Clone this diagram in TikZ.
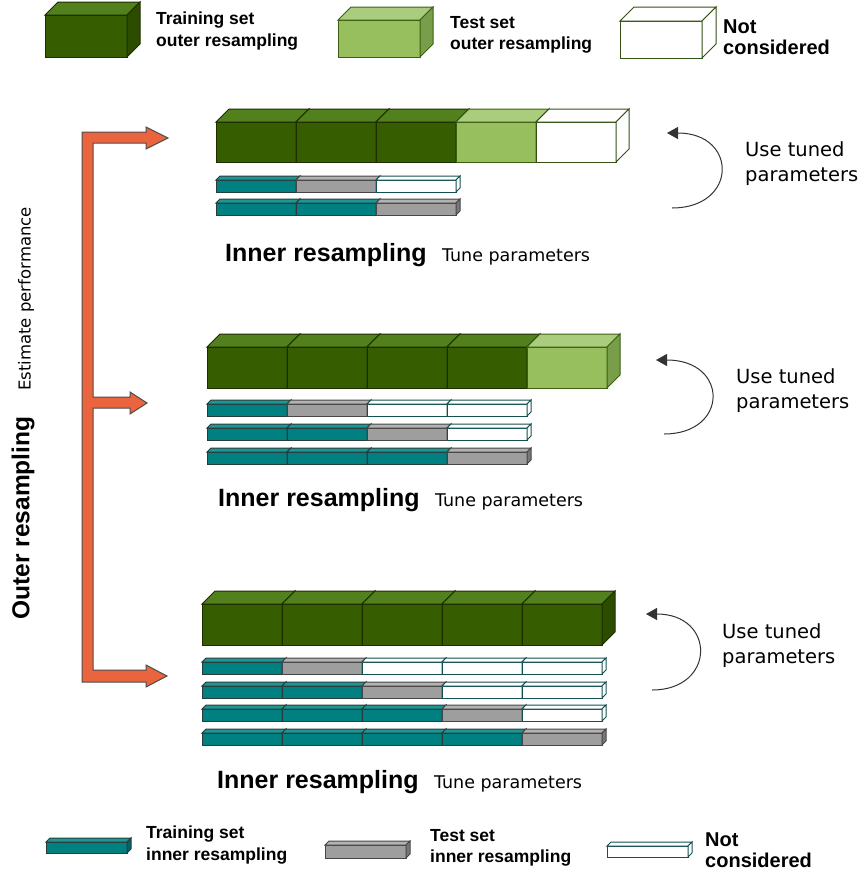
\documentclass[tikz,border=0pt]{standalone}
\usepackage{fontspec}
\setmainfont{Liberation Sans}
\newfontfamily\dejavu{DejaVu Sans}
\usetikzlibrary{arrows.meta, positioning}
% outer folds
\definecolor{otrfront}{RGB}{54, 94, 0}
\definecolor{otrtop}{RGB}{82, 128, 28}
\definecolor{otrside}{RGB}{44, 76, 0}
\definecolor{otrline}{RGB}{28, 45, 0}
\definecolor{otsfront}{RGB}{151, 191, 94}
\definecolor{otstop}{RGB}{170, 205, 125}
\definecolor{otsside}{RGB}{120, 158, 74}
\definecolor{otsline}{RGB}{60, 95, 20}
\definecolor{oncfront}{RGB}{255, 255, 255}
\definecolor{onctop}{RGB}{255, 255, 255}
\definecolor{oncside}{RGB}{255, 255, 255}
\definecolor{oncline}{RGB}{50, 80, 20}
% inner folds
\definecolor{itrfront}{RGB}{0, 128, 128}
\definecolor{itrtop}{RGB}{30, 150, 150}
\definecolor{itrside}{RGB}{0, 100, 100}
\definecolor{itrline}{RGB}{40, 60, 60}
\definecolor{itsfront}{RGB}{158, 158, 158}
\definecolor{itstop}{RGB}{178, 178, 178}
\definecolor{itsside}{RGB}{120, 120, 120}
\definecolor{itsline}{RGB}{70, 70, 70}
\definecolor{incfront}{RGB}{255, 255, 255}
\definecolor{inctop}{RGB}{255, 255, 255}
\definecolor{incside}{RGB}{255, 255, 255}
\definecolor{incline}{RGB}{20, 80, 80}
\definecolor{arroworange}{RGB}{234, 100, 62}
\tikzset{
    innerlbl/.style={anchor=west, inner sep=0pt, font=\fontsize{25}{30}\selectfont\bfseries},
    tunelbl/.style={anchor=base west, inner sep=0pt, font=\dejavu\fontsize{17.5}{21}\selectfont},
    uselbl/.style={anchor=west, inner sep=0pt, align=left, font=\dejavu\fontsize{19.5}{25}\selectfont},
    legendlbl/.style={anchor=west, inner sep=0pt, align=left, font=\fontsize{17.5}{21.5}\selectfont\bfseries},
    notlbl/.style={anchor=west, inner sep=0pt, align=left, font=\fontsize{20}{21.5}\selectfont\bfseries},
    looparrow/.style={-{Triangle[length=11pt, width=12pt]}, line width=1pt, black!80},
    outerarrow/.style={fill=arroworange, draw=black!70, line width=1pt, line join=miter},
}
% box: x1, y1, x2, y2, depth, kind
\newcommand{\cuboid}[6]{%
  \filldraw[fill=#6front, draw=#6line, line width=1pt] (#1,#2) rectangle (#3,#4);
  \filldraw[fill=#6top, draw=#6line, line width=1pt] (#1,#2) -- ++(#5,-#5) -- ({#3+#5},{#2-#5}) -- (#3,#2) -- cycle;
  \filldraw[fill=#6side, draw=#6line, line width=1pt] (#3,#2) -- ++(#5,-#5) -- ({#3+#5},{#4-#5}) -- (#3,#4) -- cycle;
}
% row of folds: x0, top, height, depth, kinds
\newcommand{\foldrow}[5]{%
  \foreach \k [count=\i from 0] in {#5} {
    \cuboid{#1+\i*80}{#2}{#1+\i*80+80}{#2+#3}{#4}{\k}
  }
}

\begin{document}
\begin{tikzpicture}[x=1pt, y=-1pt]
\useasboundingbox (0,0) rectangle (859,873);

% Legend outer resampling
\cuboid{45}{15}{127}{57}{13}{otr}
\node[legendlbl] (lgotr) at (156,31) {Training set\\outer resampling};
\cuboid{338}{20}{420}{57}{13}{ots}
\node[legendlbl] (lgots) at (450,35) {Test set\\outer resampling};
\cuboid{620}{21}{702}{58}{14}{onc}
\node[notlbl] (lgonc) at (723,37) {Not\\considered};

% Outer resampling arrow
\filldraw[outerarrow] (82,132) -- (146,132) -- (146,127) -- (168,138) -- (146,149) -- (146,143)
  -- (93,143) -- (93,397) -- (130,397) -- (130,392) -- (147,403) -- (130,414) -- (130,408)
  -- (93,408) -- (93,670) -- (146,670) -- (146,665) -- (167,676) -- (146,687) -- (146,682)
  -- (82,682) -- cycle;
\node[rotate=90, font=\fontsize{24.5}{28}\selectfont\bfseries] (outerlbl) at (23,518) {Outer resampling};
\node[rotate=90, font=\dejavu\fontsize{16.5}{20}\selectfont] (estlbl) at (26,299) {Estimate performance};

% Block 1
\foldrow{216}{122}{40}{13}{otr,otr,otr,ots,onc}
\foldrow{216}{180}{12}{4}{itr,its,inc}
\foldrow{216}{203}{12}{4}{itr,itr,its}
\node[innerlbl] (inner1) at (225,255) {Inner resampling};
\node[tunelbl] (tune1) at ([xshift=15pt]inner1.base east) {Tune parameters};
\coordinate (loop1a) at (672,208);
\coordinate (loop1b) at (667,133);
\draw[looparrow] (loop1a) .. controls (738,208) and (738,133) .. (loop1b);
\node[uselbl] (use1) at (745,164) {Use tuned\\parameters};

% Block 2
\foldrow{207}{347}{41}{13}{otr,otr,otr,otr,ots}
\foldrow{207}{404}{12}{4}{itr,its,inc,inc}
\foldrow{207}{428}{12}{4}{itr,itr,its,inc}
\foldrow{207}{452}{12}{4}{itr,itr,itr,its}
\node[innerlbl] (inner2) at (218,500) {Inner resampling};
\node[tunelbl] (tune2) at ([xshift=15pt]inner2.base east) {Tune parameters};
\coordinate (loop2a) at (664,434);
\coordinate (loop2b) at (656,360);
\draw[looparrow] (loop2a) .. controls (729,434) and (729,360) .. (loop2b);
\node[uselbl] (use2) at (736,391) {Use tuned\\parameters};

% Block 3
\foldrow{202}{604}{41}{13}{otr,otr,otr,otr,otr}
\foldrow{202}{662}{12}{4}{itr,its,inc,inc,inc}
\foldrow{202}{686}{12}{4}{itr,itr,its,inc,inc}
\foldrow{202}{709}{12}{4}{itr,itr,itr,its,inc}
\foldrow{202}{733}{12}{4}{itr,itr,itr,itr,its}
\node[innerlbl] (inner3) at (217,782) {Inner resampling};
\node[tunelbl] (tune3) at ([xshift=15pt]inner3.base east) {Tune parameters};
\coordinate (loop3a) at (652,690);
\coordinate (loop3b) at (646,614);
\draw[looparrow] (loop3a) .. controls (716,690) and (716,614) .. (loop3b);
\node[uselbl] (use3) at (722,646) {Use tuned\\parameters};

% Legend inner resampling
\cuboid{46}{842}{127}{853}{4}{itr}
\node[legendlbl] (lgitr) at (146,845) {Training set\\inner resampling};
\cuboid{325}{845}{406}{858}{4}{its}
\node[legendlbl] (lgits) at (430,848) {Test set\\inner resampling};
\cuboid{607}{846}{688}{857}{4}{inc}
\node[notlbl] (lginc) at (705,850) {Not\\considered};
\end{tikzpicture}
\end{document}
